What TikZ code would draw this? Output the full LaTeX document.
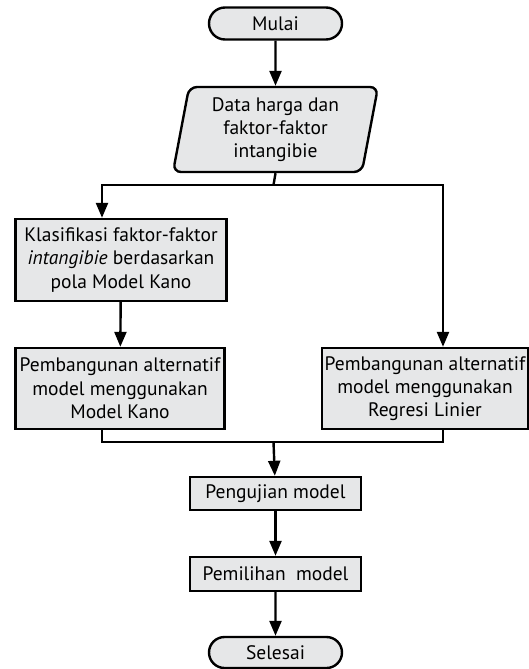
\documentclass[tikz,border=0pt]{standalone}
\usepackage{fontspec}
\setmainfont{PT Sans}
\usetikzlibrary{shapes.geometric,shapes.misc,arrows.meta}
\definecolor{boxgray}{HTML}{E6E7E8}

\begin{document}
\begin{tikzpicture}[x=1pt,y=-1pt,
        font=\fontsize{19.5}{23.3}\selectfont,
        blok/.style={draw,line width=2.4pt,fill=boxgray,align=center,inner sep=0pt},
        proses/.style={blok,rectangle,minimum height=33pt},
        terminal/.style={blok,rounded rectangle,minimum width=133pt,minimum height=32pt},
        masukan/.style={blok,trapezium,trapezium left angle=76,trapezium right angle=104,
          trapezium stretches body,rounded corners=8pt,minimum height=85pt,minimum width=205pt},
        panah/.style={-{Triangle[length=15pt,width=12pt]},line width=2.4pt}]
        \useasboundingbox (0,0) rectangle (529,669);

        \node[terminal] (mulai) at (275.5,23.5) {Mulai};
        \node[masukan] (data) at (275.5,129.5) {Data harga dan\\faktor-faktor\\intangibie};
        \node[proses,minimum width=211pt,minimum height=82pt] (klas) at (121,260)
          {Klasifikasi faktor-faktor\\\textit{intangibie} berdasarkan\\pola Model Kano};
        \node[proses,minimum width=209pt,minimum height=81pt] (kano) at (120,388.5)
          {Pembangunan alternatif\\model menggunakan\\Model Kano};
        \node[proses,minimum width=206pt,minimum height=81pt] (regresi) at (425,388.5)
          {Pembangunan alternatif\\model menggunakan\\Regresi Linier};
        \node[proses,minimum width=171pt] (uji) at (275.5,493.5) {Pengujian model};
        \node[proses,minimum width=171pt,minimum height=34pt] (pilih) at (275.5,574) {Pemilihan~ model};
        \node[terminal,minimum height=31pt] (selesai) at (275.5,652.5) {Selesai};

        \coordinate (cabang) at (273.5,185);
        \coordinate (gabung) at (273.5,442);

        \path[panah]

        (mulai) edge (data)

        (klas) edge (kano)

        (uji) edge (pilih)

        (pilih) edge (selesai)

        ;
        \draw[line width=2.4pt] (data.south) -- (cabang);
        \draw[panah] (cabang) -| ([xshift=-19pt]klas.north);
        \draw[panah] (cabang) -| ([xshift=18pt]regresi.north);
        \draw[line width=2.4pt] ([xshift=-18pt]kano.south) |- (gabung)
          ([xshift=18pt]regresi.south) |- (gabung);
        \draw[panah] (gabung) -- (uji);
\end{tikzpicture}
\end{document}
